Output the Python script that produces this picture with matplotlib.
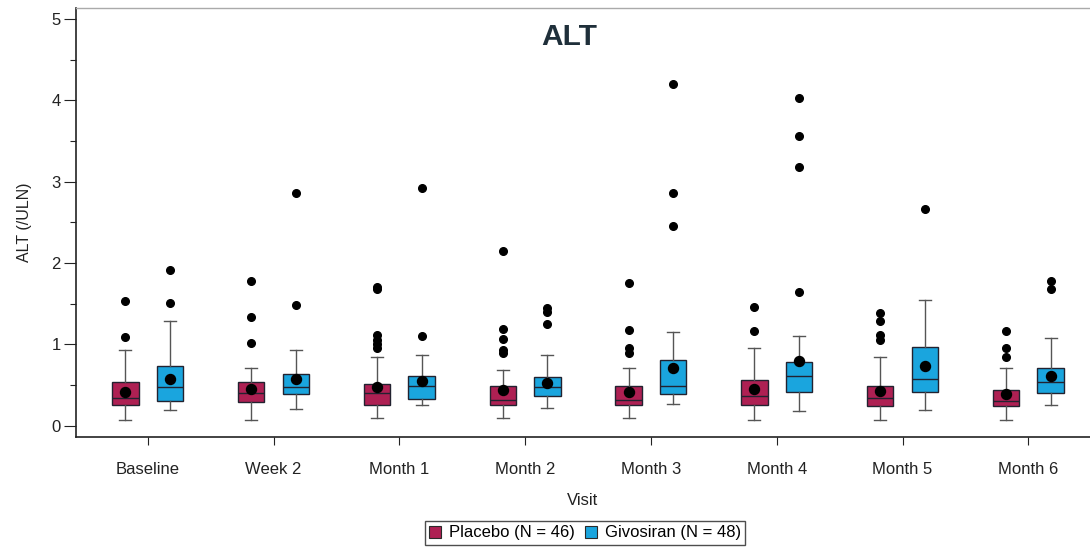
import matplotlib
matplotlib.use('Agg')
import matplotlib.pyplot as plt
import numpy as np
from matplotlib.ticker import MultipleLocator
from matplotlib.patches import Patch

plt.rcParams['font.family'] = ['Liberation Sans', 'DejaVu Sans']

visits = ['Baseline', 'Week 2', 'Month 1', 'Month 2', 'Month 3', 'Month 4', 'Month 5', 'Month 6']
groups = ['Placebo (N = 46)', 'Givosiran (N = 48)']
colors = ['#AE2053', '#1AA5DE']

placebo_whislo = [0.07, 0.07, 0.10, 0.10, 0.10, 0.07, 0.07, 0.07]
placebo_q1     = [0.255, 0.295, 0.26, 0.26, 0.26, 0.26, 0.24, 0.24]
placebo_med    = [0.34, 0.40, 0.40, 0.32, 0.32, 0.365, 0.34, 0.31]
placebo_q3     = [0.54, 0.54, 0.51, 0.49, 0.49, 0.56, 0.49, 0.44]
placebo_whishi = [0.93, 0.71, 0.84, 0.69, 0.71, 0.95, 0.85, 0.71]
placebo_mean   = [0.41, 0.455, 0.48, 0.44, 0.42, 0.455, 0.43, 0.39]
placebo_fliers = [
    [1.09, 1.53],
    [1.02, 1.34, 1.78],
    [0.95, 1.00, 1.05, 1.12, 1.68, 1.70],
    [0.89, 0.93, 1.07, 1.19, 2.15],
    [0.89, 0.95, 1.18, 1.76],
    [1.17, 1.46],
    [1.05, 1.12, 1.29, 1.39],
    [0.84, 0.95, 1.17],
]

givo_whislo = [0.19, 0.21, 0.25, 0.22, 0.27, 0.185, 0.19, 0.25]
givo_q1     = [0.31, 0.39, 0.33, 0.365, 0.39, 0.41, 0.41, 0.40]
givo_med    = [0.48, 0.48, 0.49, 0.47, 0.49, 0.61, 0.58, 0.54]
givo_q3     = [0.74, 0.64, 0.61, 0.595, 0.81, 0.78, 0.97, 0.71]
givo_whishi = [1.29, 0.93, 0.87, 0.87, 1.15, 1.10, 1.54, 1.08]
givo_mean   = [0.58, 0.57, 0.55, 0.52, 0.71, 0.80, 0.73, 0.61]
givo_fliers = [
    [1.51, 1.91],
    [1.49, 2.86],
    [1.10, 2.92],
    [1.25, 1.40, 1.45],
    [2.45, 2.86, 4.20],
    [1.64, 3.18, 3.56, 4.03],
    [2.67],
    [1.68, 1.78],
]


def make_stats(wlo, q1, med, q3, whi, mean, fliers):
    return [dict(whislo=a, q1=b, med=c, q3=d, whishi=e, mean=f, fliers=g)
            for a, b, c, d, e, f, g in zip(wlo, q1, med, q3, whi, mean, fliers)]


stats = [
    make_stats(placebo_whislo, placebo_q1, placebo_med, placebo_q3, placebo_whishi, placebo_mean, placebo_fliers),
    make_stats(givo_whislo, givo_q1, givo_med, givo_q3, givo_whishi, givo_mean, givo_fliers),
]

fig = plt.figure(figsize=(10.9, 5.47), dpi=100)
ax = fig.add_axes([76 / 1090, 1 - 436.7 / 547, 1 - 76 / 1090, (436.7 - 8) / 547])

x = np.arange(len(visits))
offsets = [-0.177, 0.177]
for st, off, col in zip(stats, offsets, colors):
    ax.bxp(st, positions=x + off, widths=0.21, capwidths=0.095,
           showmeans=True, patch_artist=True, manage_ticks=False,
           boxprops=dict(facecolor=col, edgecolor='#222230', linewidth=1.0),
           medianprops=dict(color='#222230', linewidth=1.0),
           whiskerprops=dict(color='#555555', linewidth=1.0),
           capprops=dict(color='#555555', linewidth=1.0),
           meanprops=dict(marker='o', markerfacecolor='black', markeredgecolor='black', markersize=7.2),
           flierprops=dict(marker='o', markerfacecolor='black', markeredgecolor='black', markersize=5.5))

ax.set_xlim(-0.57, 7.49)
ax.set_ylim(-0.135, 5.135)
ax.set_xticks(x)
ax.set_xticklabels(visits, fontsize=12, color='#222222')
ax.yaxis.set_major_locator(MultipleLocator(1))
ax.yaxis.set_minor_locator(MultipleLocator(0.5))
ax.tick_params(axis='y', which='major', length=9, width=0.8, labelsize=12, pad=2, colors='#222222')
ax.tick_params(axis='y', which='minor', length=4, width=0.8, colors='#222222')
ax.tick_params(axis='x', which='major', length=6, width=0.8, pad=12, colors='#222222')

ax.spines['right'].set_visible(False)
ax.spines['top'].set_color('#aaaaaa')
ax.spines['top'].set_linewidth(1.0)
ax.spines['left'].set_color('#222222')
ax.spines['bottom'].set_color('#222222')
ax.spines['left'].set_linewidth(1.2)
ax.spines['bottom'].set_linewidth(1.2)

ax.set_ylabel('ALT (/ULN)', fontsize=11.5, color='#222222', labelpad=14)
ax.set_xlabel('Visit', fontsize=12, color='#222222', labelpad=12)

fig.text(569 / 1090, 1 - 37 / 547, 'ALT', fontsize=21.5, fontweight='bold',
         color='#1F2F3A', ha='center', va='center')

handles = [Patch(facecolor=c, edgecolor='#2a2a2a', linewidth=0.8) for c in colors]
leg = fig.legend(handles, groups, loc='center', bbox_to_anchor=(585 / 1090, 1 - 533 / 547),
                 ncol=2, fontsize=12, frameon=True, fancybox=False, handlelength=0.7,
                 handleheight=0.7, handletextpad=0.5, columnspacing=0.6,
                 borderpad=0.25, borderaxespad=0)
leg.get_frame().set_edgecolor('#222222')
leg.get_frame().set_linewidth(1.0)

fig.savefig('out.png', dpi=100)
